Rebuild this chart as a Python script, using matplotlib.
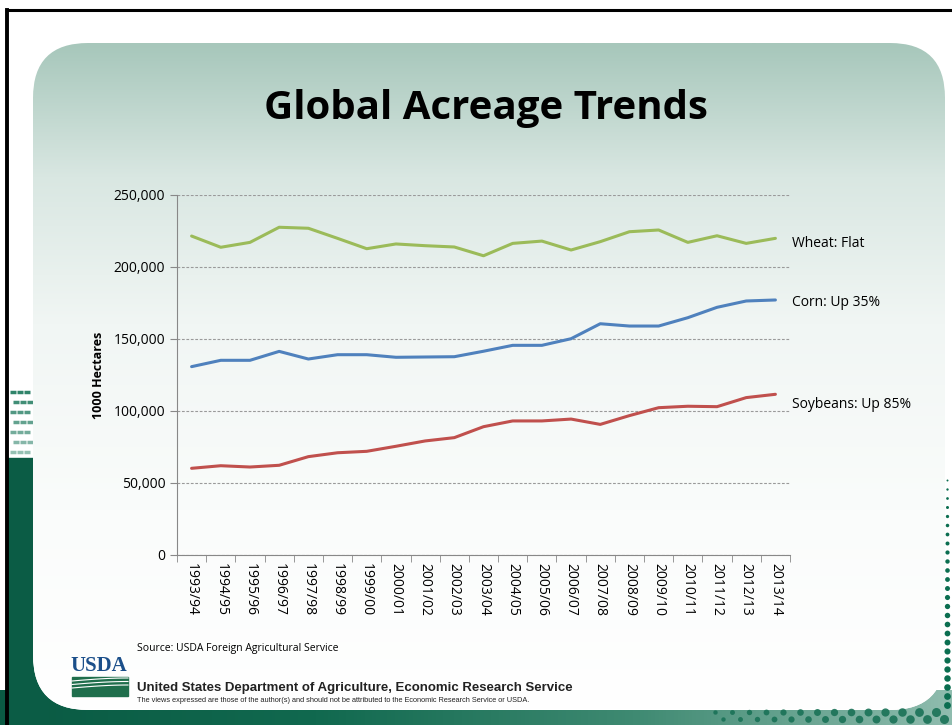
import numpy as np
import matplotlib
matplotlib.use("Agg")
import matplotlib.pyplot as plt
from matplotlib.patches import FancyBboxPatch, Rectangle
from matplotlib.colors import LinearSegmentedColormap
from matplotlib.ticker import FuncFormatter, MultipleLocator

# --- data (1000 hectares) ---
years = ["1993/94", "1994/95", "1995/96", "1996/97", "1997/98", "1998/99", "1999/00",
         "2000/01", "2001/02", "2002/03", "2003/04", "2004/05", "2005/06", "2006/07",
         "2007/08", "2008/09", "2009/10", "2010/11", "2011/12", "2012/13", "2013/14"]
wheat = [221500, 213700, 217100, 227600, 226900, 219900, 212700, 216000, 214800, 213900,
         207800, 216400, 218000, 211800, 217600, 224500, 225700, 217100, 221700, 216400, 219900]
corn = [130800, 135200, 135200, 141400, 136100, 139100, 139100, 137300, 137500, 137700,
        141500, 145600, 145600, 150200, 160600, 159000, 159000, 164800, 172000, 176400, 177100]
soybeans = [60200, 62000, 61100, 62300, 68300, 71000, 72000, 75500, 79200, 81500,
            89100, 93100, 93100, 94400, 90700, 96800, 102300, 103300, 103000, 109300, 111600]
labels = ["Wheat: Flat", "Corn: Up 35%", "Soybeans: Up 85%"]

W, H = 953, 725
fig = plt.figure(figsize=(W / 100, H / 100), dpi=100)
fig.patch.set_facecolor("white")

# --- slide background ---
bg = fig.add_axes([0, 0, 1, 1])
bg.set_xlim(0, W)
bg.set_ylim(H, 0)
bg.axis("off")

# dark green bottom band and left strip
band_cmap = LinearSegmentedColormap.from_list("band", ["#0a5a43", "#11694f", "#3f8a72", "#8fbcae"])
bg.imshow(np.linspace(0, 1, 256)[None, :], cmap=band_cmap, aspect="auto",
          extent=[0, W, H, 690], zorder=0)
bg.add_patch(Rectangle((8, 458), 40, 270, color="#0b5c45", zorder=0))
# dashed texture on the left
for r in range(7):
    yy = 392 + r * 10
    bg.scatter(np.arange(13, 34, 7) + (r % 2) * 3, [yy] * 3, s=14, marker="_",
               color="#0b6e50", alpha=0.85 - r * 0.07, zorder=1, linewidths=2.5)

# rounded panel with gradient
panel = FancyBboxPatch((33, 43), 912, 667, boxstyle="round,pad=0,rounding_size=55",
                       facecolor="white", edgecolor="none", zorder=2)
bg.add_patch(panel)
grad_cmap = LinearSegmentedColormap.from_list(
    "panel", [(0, "#a7c7bb"), (0.2, "#d9e7e2"), (0.42, "#f1f6f4"), (0.7, "#fafcfb"), (1, "#ffffff")])
img = bg.imshow(np.linspace(0, 1, 256)[:, None], cmap=grad_cmap, aspect="auto",
                extent=[33, 945, 710, 43], zorder=3)
img.set_clip_path(panel)

# dots along the right edge / bottom right
for i in range(26):
    yy = 480 + i * 9
    bg.scatter([947], [yy], s=2 + i * 0.9, color="#0b6e50", zorder=4, linewidths=0)
for c in range(14):
    for r in range(2):
        bg.scatter([715 + c * 17 + r * 8], [712 + r * 7], s=10 + c * 2.5,
                   marker="o", color="#1a7257", alpha=0.9, zorder=4, linewidths=0)

# black frame (top + left)
bg.plot([7, W], [10, 10], color="black", lw=2.2, zorder=6)
bg.plot([7, 7], [10, H], color="black", lw=2.8, zorder=6)

# title
fig.text(486 / W, 1 - 109 / H, "Global Acreage Trends", ha="center", va="center",
         fontsize=29, fontweight="bold", family="Open Sans", color="black")

# --- chart ---
ax = fig.add_axes([177 / W, 1 - 555 / H, 613 / W, 360 / H])
ax.patch.set_alpha(0)
x = np.arange(len(years))
ax.plot(x, wheat, color="#9bbb59", lw=2.2, solid_capstyle="round")
ax.plot(x, corn, color="#4f81bd", lw=2.2, solid_capstyle="round")
ax.plot(x, soybeans, color="#c0504d", lw=2.2, solid_capstyle="round")

ax.set_xlim(-0.5, len(years) - 0.5)
ax.set_ylim(0, 250000)
ax.yaxis.set_major_locator(MultipleLocator(50000))
ax.yaxis.set_major_formatter(FuncFormatter(lambda v, p: f"{int(v):,}"))
ax.grid(axis="y", color="#9a9a9a", ls=(0, (2.5, 1.5)), lw=0.8)
ax.set_axisbelow(True)

ax.set_xticks(x)
ax.set_xticklabels(years, rotation=270, family="Open Sans", fontsize=10)
ax.set_xticks(np.arange(-0.5, len(years), 1), minor=True)
ax.tick_params(axis="x", which="major", length=0, pad=6)
ax.tick_params(axis="x", which="minor", length=5, color="#888888", direction="out")
ax.tick_params(axis="y", length=5, color="#888888", labelsize=10)
for t in ax.get_yticklabels():
    t.set_family("Open Sans")
for s in ["top", "right"]:
    ax.spines[s].set_visible(False)
for s in ["left", "bottom"]:
    ax.spines[s].set_color("#888888")

ax.set_ylabel("1000 Hectares", fontsize=9, fontweight="bold", family="Open Sans", labelpad=6)

# end labels
for series, lab, dy in zip([wheat, corn, soybeans], labels, [-3.5, -2, -7.5]):
    ax.annotate(lab, xy=(len(years) - 1, series[-1]), xytext=(12, dy),
                textcoords="offset points", va="center", ha="left", fontsize=10,
                family="Open Sans", annotation_clip=False)

# footer texts
fig.text(137 / W, 1 - 648 / H, "Source: USDA Foreign Agricultural Service", fontsize=7.5,
         family="Open Sans", va="center", ha="left")
fig.text(137 / W, 1 - 688 / H, "United States Department of Agriculture, Economic Research Service",
         fontsize=9.5, fontweight="bold", family="Liberation Sans", va="center", ha="left",
         color="#222222")
fig.text(137 / W, 1 - 700 / H,
         "The views expressed are those of the author(s) and should not be attributed to the Economic Research Service or USDA.",
         fontsize=5.3, family="Liberation Sans", va="center", ha="left", color="#222222")

# USDA logo
fig.text(99 / W, 1 - 666 / H, "USDA", fontsize=15, family="Liberation Serif", color="#1b4f8a",
         ha="center", va="center", fontweight="bold")
bg.add_patch(Rectangle((72, 677), 56, 19, color="#1f6e4c", zorder=5))
for k in range(3):
    xs = np.linspace(72, 128, 30)
    bg.plot(xs, 681 + k * 3.5 - 3 * np.sin((xs - 72) / 56 * np.pi / 2), color="white",
            lw=0.8, zorder=6)

fig.savefig("out.png", dpi=100)
